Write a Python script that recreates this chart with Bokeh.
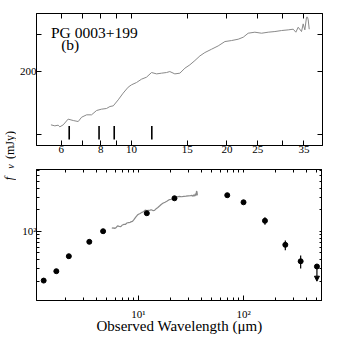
from math import pi
from bokeh.plotting import figure
from bokeh.models import FixedTicker, LogAxis, Label, Arrow, NormalHead, Range1d
from bokeh.layouts import column, row
from bokeh.embed import file_html
from bokeh.resources import INLINE

# ---- data -------------------------------------------------------------
spec_wave = [5.57, 5.73, 5.87, 5.94, 6.09, 6.31, 6.55, 6.79, 6.96, 7.22, 7.48, 7.76,
             8.04, 8.34, 8.55, 8.76, 9.08, 9.41, 9.76, 10.0, 10.37, 10.75, 11.15,
             11.57, 12.0, 12.44, 12.9, 13.21, 13.7, 14.21, 14.74, 15.28, 15.85, 16.44,
             17.04, 17.89, 18.77, 19.71, 20.69, 21.71, 22.52, 23.34, 24.5, 25.72,
             27.0, 28.34, 29.74, 31.22, 32.37, 33.0, 33.57, 34.39, 34.81, 35.23,
             35.66, 35.92, 36.1, 36.37]
spec_flux = [111.5, 110.3, 111.1, 109.1, 111.5, 118.7, 116.9, 115.6, 121.2, 124.4,
             124.4, 130.4, 132.3, 133.3, 136.2, 137.2, 146.5, 157.6, 168.2, 172.6,
             177.0, 183.5, 187.6, 197.4, 194.5, 196.0, 197.4, 199.5, 194.5, 196.0,
             207.0, 214.7, 225.0, 236.7, 245.5, 254.6, 264.0, 276.8, 279.9, 284.0,
             290.3, 303.2, 306.6, 303.2, 306.6, 308.8, 312.2, 314.5, 316.8, 306.6,
             323.7, 308.8, 335.7, 314.5, 361.1, 361.1, 350.6, 316.8]

pah_wave = [6.36, 7.90, 8.82, 11.59]
pah_lo = [95.0, 95.0, 95.0, 95.0]
pah_hi = [110.0, 110.0, 110.0, 110.0]

phot_wave = [1.25, 1.65, 2.17, 3.4, 4.6, 12.0, 22.0, 70.0, 100.0, 160.0, 250.0, 350.0, 500.0]
phot_flux = [20.4, 27.6, 44.7, 71.1, 100.0, 178.5, 289.0, 319.0, 254.0, 140.0, 64.5, 38.0, 32.1]

err_wave = [160.0, 250.0, 350.0]
err_lo = [123.0, 54.0, 30.0]
err_hi = [157.0, 74.0, 45.7]

ul_wave = [500.0]
ul_from = [32.1]
ul_to = [20.0]

top_xticks = [6, 8, 10, 15, 20, 25, 35]
top_xminor = [7, 9, 30]
top_xlabels = {6: "6", 8: "8", 10: "10", 15: "15", 20: "20", 25: "25", 35: "35"}
top_yticks = [200]
top_yminor = [100, 300]
top_ylabels = {200: "200"}

bot_xticks = [10, 100]
bot_xminor = [2, 3, 4, 5, 6, 7, 8, 9, 20, 30, 40, 50, 60, 70, 80, 90, 200, 300, 400, 500]
bot_yticks = [100]
bot_yminor = [20, 30, 40, 50, 60, 70, 80, 90, 200, 300, 400, 500, 600, 700]
bot_xlabels = {10: "10\u00b9", 100: "10\u00b2"}
bot_ylabels = {100: "10\u00b2"}

FONT = "Liberation Serif"
GRAY = "#8a8a8a"


def style_common(ax):
    ax.major_tick_out = 0
    ax.minor_tick_out = 0
    ax.axis_line_color = "black"
    ax.major_tick_line_color = "black"
    ax.minor_tick_line_color = "black"


def style_axis(ax, ticks, minor, overrides, major_len=5, minor_len=5, standoff=2):
    ax.ticker = FixedTicker(ticks=ticks, minor_ticks=minor)
    style_common(ax)
    ax.major_tick_in = major_len
    ax.minor_tick_in = minor_len
    ax.major_label_text_font = FONT
    ax.major_label_text_color = "black"
    ax.major_label_text_font_size = "11px"
    ax.major_label_standoff = standoff
    ax.major_label_overrides = overrides


def style_mirror(ax, ticks, minor, tick_len):
    # mirror axis: every tick is drawn as a (label-free) minor tick
    ax.ticker = FixedTicker(ticks=[], minor_ticks=list(ticks) + list(minor))
    style_common(ax)
    ax.major_tick_in = 0
    ax.minor_tick_in = tick_len
    ax.major_label_standoff = 0


def make_fig(xr, yr, fh, btop, bbot):
    p = figure(x_axis_type="log", y_axis_type="log",
               x_range=Range1d(*xr), y_range=Range1d(*yr),
               frame_width=286, frame_height=fh,
               min_border_left=10, min_border_right=3,
               min_border_top=btop, min_border_bottom=bbot,
               output_backend="svg", toolbar_location=None)
    p.xgrid.visible = False
    p.ygrid.visible = False
    p.outline_line_color = "black"
    p.outline_line_width = 1
    p.background_fill_color = "white"
    p.border_fill_color = "white"
    return p


# ---- top panel --------------------------------------------------------
p1 = make_fig((5.015, 40.05), (89.0, 376.0), 132, 13, 14)
p1.line(spec_wave, spec_flux, line_color=GRAY, line_width=1)
p1.segment(x0=pah_wave, y0=pah_lo, x1=pah_wave, y1=pah_hi,
           line_color="black", line_width=1.6)
style_axis(p1.xaxis[0], top_xticks, top_xminor, top_xlabels, standoff=0)
style_axis(p1.yaxis[0], top_yticks, top_yminor, top_ylabels, standoff=0)
ax_r = LogAxis()
ax_t = LogAxis()
p1.add_layout(ax_r, "right")
p1.add_layout(ax_t, "above")
style_mirror(ax_r, top_yticks, top_yminor, 5)
style_mirror(ax_t, top_xticks, top_xminor, 5)

p1.add_layout(Label(x=5.57, y=307.0, text="PG 0003+199", text_font=FONT,
                    text_font_size="15.5px", text_baseline="middle", text_align="left",
                    text_color="black"))
p1.add_layout(Label(x=6.0, y=267.0, text="(b)", text_font=FONT,
                    text_font_size="15.5px", text_baseline="middle", text_align="left",
                    text_color="black"))

# ---- bottom panel -----------------------------------------------------
p2 = make_fig((1.068, 565.0), (10.74, 730.0), 131, 10, 31)
p2.line(spec_wave, spec_flux, line_color=GRAY, line_width=1.2)
p2.segment(x0=err_wave, y0=err_lo, x1=err_wave, y1=err_hi, line_color="black", line_width=1.2)
p2.add_layout(Arrow(end=NormalHead(size=5, fill_color="black", line_color="black"),
                    x_start=ul_wave[0], y_start=ul_from[0], x_end=ul_wave[0], y_end=ul_to[0],
                    line_color="black", line_width=1.2))
p2.scatter(phot_wave, phot_flux, size=5, marker="circle", fill_color="black", line_color="black")

style_axis(p2.xaxis[0], bot_xticks, bot_xminor, bot_xlabels, minor_len=3, standoff=7)
style_axis(p2.yaxis[0], bot_yticks, bot_yminor, bot_ylabels, minor_len=3, standoff=0)
p2.xaxis[0].axis_label = "Observed Wavelength (\u03bcm)"
p2.xaxis[0].axis_label_text_font = FONT
p2.xaxis[0].axis_label_text_font_style = "normal"
p2.xaxis[0].axis_label_text_font_size = "15px"
p2.xaxis[0].axis_label_text_color = "black"
p2.xaxis[0].axis_label_standoff = -5
bx_r = LogAxis()
bx_t = LogAxis()
p2.add_layout(bx_r, "right")
p2.add_layout(bx_t, "above")
style_mirror(bx_r, bot_yticks, bot_yminor, 3)
style_mirror(bx_t, bot_xticks, bot_xminor, 3)

# ---- shared y-axis title in its own narrow strip ------------------------
lab = figure(x_range=Range1d(0, 16), y_range=Range1d(0, 331),
             width=16, height=331,
             x_axis_location=None, y_axis_location=None,
             min_border_left=0, min_border_right=0, min_border_top=0, min_border_bottom=0,
             output_backend="svg", toolbar_location=None)
lab.xgrid.visible = False
lab.ygrid.visible = False
lab.outline_line_color = None
lab.background_fill_color = "white"
lab.border_fill_color = "white"
lab.add_layout(Label(x=9.5, y=186.5, text="(mJy)", text_font=FONT,
                     text_font_size="12px", text_baseline="middle", text_align="center",
                     angle=pi / 2, text_color="black"))
lab.add_layout(Label(x=8.5, y=153.0, text="f", text_font=FONT, text_font_style="italic",
                     text_font_size="12px", text_baseline="middle", text_align="center",
                     angle=pi / 2, text_color="black"))
lab.add_layout(Label(x=9.5, y=165.0, text="\u03bd", text_font=FONT, text_font_style="italic",
                     text_font_size="10px", text_baseline="middle", text_align="center",
                     angle=pi / 2, text_color="black"))

layout = row(lab, column(p1, p2, spacing=0), spacing=0)
open("out.html", "w").write(file_html(layout, INLINE))
